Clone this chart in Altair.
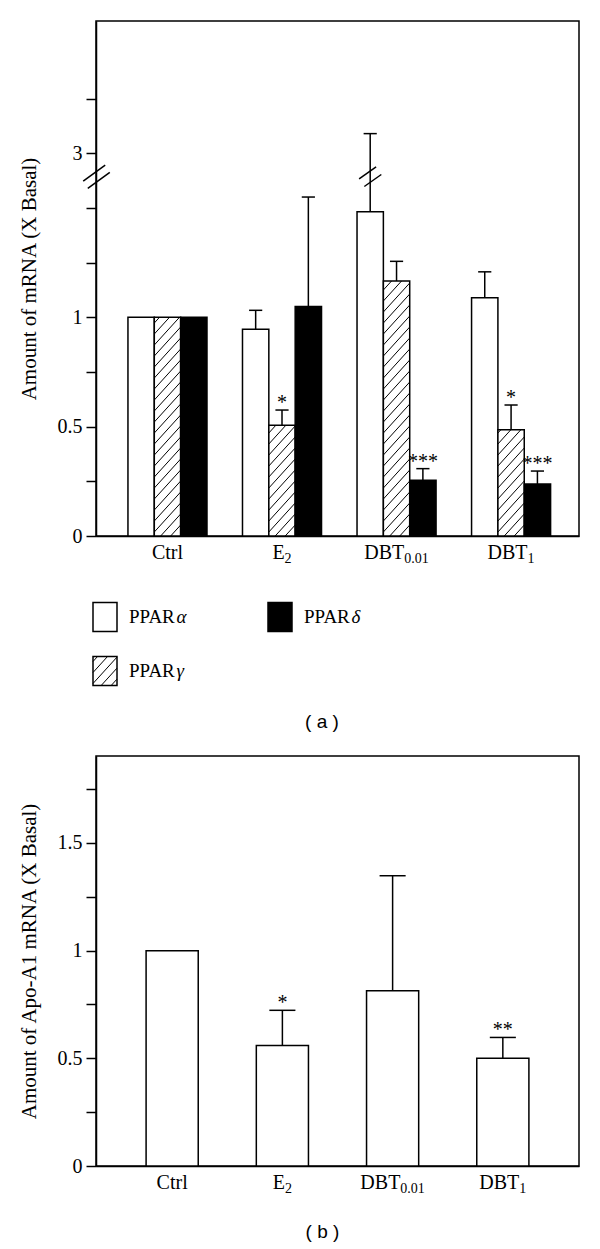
import json
import math
import altair as alt
import pandas as pd

# ---------------- data ----------------
groups = ["Ctrl", "E2", "DBT0.01", "DBT1"]
label_base = ["Ctrl", "E", "DBT", "DBT"]
label_sub = ["", "2", "0.01", "1"]
series = ["PPARα", "PPARγ", "PPARδ"]

alpha_mean = [1.00, 0.945, 1.483, 1.090]
alpha_sem = [0.0, 0.087, 1.607, 0.118]
alpha_sig = ["", "", "", ""]

gamma_mean = [1.00, 0.506, 1.166, 0.486]
gamma_sem = [0.0, 0.070, 0.090, 0.113]
gamma_sig = ["", "*", "", "*"]

delta_mean = [1.00, 1.050, 0.255, 0.238]
delta_sem = [0.0, 0.500, 0.053, 0.059]
delta_sig = ["", "", "***", "***"]

apo_mean = [1.00, 0.560, 0.814, 0.500]
apo_sem = [0.0, 0.163, 0.534, 0.097]
apo_sig = ["", "*", "", "**"]

# y tick values (real units) and which get a label
a_ticks = [0, 0.25, 0.5, 0.75, 1.0, 1.25, 1.5, 3.0, 3.25]
a_tick_labels = {0: "0", 0.5: "0.5", 1.0: "1", 3.0: "3"}
b_ticks = [0, 0.25, 0.5, 0.75, 1.0, 1.25, 1.5, 1.75]
b_tick_labels = {0: "0", 0.5: "0.5", 1.0: "1", 1.5: "1.5"}

legend_col = [0, 0, 1]   # PPARα, PPARγ, PPARδ
legend_row = [0, 1, 0]

# ---------------- layout / style ----------------
FONT = "Liberation Serif"
FS = 20          # axis labels
FS_T = 21        # axis titles
FS_SUB = 14      # subscripts
FS_LEG = 19
FS_STAR = 20
W = 483
HA = 515
HB = 410
XA = [-0.624, 3.593]
YA = [0, 2.355]            # display units (broken axis)
BREAK_LO, BREAK_SHIFT = 2.0, 1.25
BREAK_Y = 1.643
BW_A = 0.23
XB = [-0.691, 3.691]
YB = [0, 1.904]
BW_B = 0.473
SXA = W / (XA[1] - XA[0])
SYA = HA / (YA[1] - YA[0])
SXB = W / (XB[1] - XB[0])
SYB = HB / (YB[1] - YB[0])
FILLS = ["white", "white", "black"]
HATCHED = "PPARγ"
X_EXTENT = 26

LEG_TOP = 568
HL = 186
LEG_X = [-3, 172]
LEG_ROW_Y = [617 - LEG_TOP, 671 - LEG_TOP]
BOX_W, BOX_H = 24, 29
CAP_A_X, CAP_A_Y = 322 - 96, 722 - LEG_TOP

# approximate advance widths (em) of the serif font, for label layout
EM = {'C': .667, 't': .278, 'r': .333, 'l': .278, 'E': .611, 'D': .722,
      'B': .667, 'T': .611, '0': .5, '1': .5, '2': .5, '.': .25,
      'P': .556, 'A': .722, 'R': .667}


def tw(s, size):
    return sum(EM.get(ch, .5) for ch in s) * size


def disp(v):
    return v - BREAK_SHIFT if v > BREAK_LO else v


def hatch(w, h, spacing=11.0, slope=1.1, phase=4.0):
    segs = []
    kmin = -math.ceil(slope * w / spacing) - 1
    kmax = math.ceil(h / spacing) + 1
    for k in range(kmin, kmax + 1):
        c = k * spacing + phase
        p0 = max(0.0, -c / slope)
        p1 = min(w, (h - c) / slope)
        if p1 - p0 > 0.3:
            segs.append((p0, c + slope * p0, p1, c + slope * p1))
    return segs


def slash_pair(cx, cy, hx, hy, ox, oy, sx, sy):
    out = []
    for sgn in (-1, 1):
        mx = cx + sgn * ox / sx
        my = cy - sgn * oy / sy
        out.append(dict(x0=mx - hx / sx, x1=mx + hx / sx,
                        y0=my - hy / sy, y1=my + hy / sy))
    return out


def label_expr(mapping, conv=lambda v: v):
    parts = []
    for k, lab in mapping.items():
        parts.append(f"datum.value == {conv(k)} ? '{lab}'")
    return " : ".join(parts) + " : ''"


def xlabel_table(sx):
    rows = []
    for gi, (b, s) in enumerate(zip(label_base, label_sub)):
        wb, ws = tw(b, FS), tw(s, FS_SUB)
        split = (wb - ws) / 2.0
        rows.append(dict(gi=gi, xs=gi + split / sx, base=b, sub=s, y=0))
    return pd.DataFrame(rows)


def xlabel_layers(df, X, Y):
    base = alt.Chart(df).mark_text(font=FONT, fontSize=FS, align="right",
                                   baseline="alphabetic", dy=23,
                                   color="black").encode(
        x=X("xs"), y=Y("y"), text="base:N")
    sub = alt.Chart(df).transform_filter("datum.sub != ''").mark_text(
        font=FONT, fontSize=FS_SUB, align="left", baseline="alphabetic",
        dy=27, color="black").encode(x=X("xs"), y=Y("y"), text="sub:N")
    return [base, sub]


def x_axis():
    return alt.Axis(values=[0, 1, 2, 3], labels=False, ticks=False,
                    domainColor="black", domainWidth=1.5, minExtent=X_EXTENT,
                    grid=False, title=None)


def y_axis(values, expr, title):
    return alt.Axis(values=values, labelExpr=expr,
                    tickSize=10, tickWidth=1.5, tickColor="black",
                    domainColor="black", domainWidth=1.5, labelFont=FONT,
                    labelFontSize=FS, labelColor="black", labelPadding=4,
                    grid=False, title=title, titleFont=FONT,
                    titleFontSize=FS_T, titleFontWeight="normal",
                    titleColor="black", titlePadding=18)


# ---------------- panel (a) table ----------------
rows = []
means = [alpha_mean, gamma_mean, delta_mean]
sems = [alpha_sem, gamma_sem, delta_sem]
sigs = [alpha_sig, gamma_sig, delta_sig]
for si, s in enumerate(series):
    for gi, g in enumerate(groups):
        rows.append(dict(gi=gi, si=si, series=s, mean=means[si][gi],
                         sem=sems[si][gi], sig=sigs[si][gi]))
dfA = pd.DataFrame(rows)

hatchA = []
for gi, m in enumerate(gamma_mean):
    si = series.index(HATCHED)
    xl = gi + (si - 1) * BW_A - BW_A / 2
    for p0, u0, p1, u1 in hatch(BW_A * SXA, disp(m) * SYA):
        hatchA.append(dict(x0=xl + p0 / SXA, x1=xl + p1 / SXA,
                           y0=u0 / SYA, y1=u1 / SYA))
dfHA = pd.DataFrame(hatchA)

breaks = slash_pair(XA[0] + 0.5 / SXA, BREAK_Y, 11, 8, 2.3, 3.6, SXA, SYA)
for r in rows:
    if r["mean"] + r["sem"] > BREAK_LO:
        xc = r["gi"] + (r["si"] - 1) * BW_A
        breaks += slash_pair(xc, BREAK_Y, 8.5, 6, 2.6, 3.8, SXA, SYA)
dfBR = pd.DataFrame(breaks)

xscaleA = alt.Scale(domain=XA, nice=False, zero=False)
yscaleA = alt.Scale(domain=YA, nice=False, zero=False)
axisXA = x_axis()
axisYA = y_axis([disp(v) for v in a_ticks], label_expr(a_tick_labels, disp),
                "Amount of mRNA (X Basal)")


def XAe(f):
    return alt.X(f"{f}:Q", scale=xscaleA, axis=axisXA)


def YAe(f):
    return alt.Y(f"{f}:Q", scale=yscaleA, axis=axisYA)


baseA = alt.Chart(dfA).transform_calculate(
    xc=f"datum.gi + (datum.si - 1) * {BW_A}",
    x0=f"datum.xc - {BW_A / 2}",
    x1=f"datum.xc + {BW_A / 2}",
    c0=f"datum.xc - {BW_A / 4}",
    c1=f"datum.xc + {BW_A / 4}",
    top="datum.mean + datum.sem",
    ytop=f"datum.top > {BREAK_LO} ? datum.top - {BREAK_SHIFT} : datum.top",
    ymean=f"datum.mean > {BREAK_LO} ? datum.mean - {BREAK_SHIFT} : datum.mean",
    zero="0",
)

barsA = baseA.mark_bar(stroke="black", strokeWidth=1.5).encode(
    x=XAe("x0"), x2="x1:Q", y=YAe("ymean"), y2="zero:Q",
    fill=alt.Fill("series:N", scale=alt.Scale(domain=series, range=FILLS),
                  legend=None),
)
hatchLayerA = alt.Chart(dfHA).mark_rule(color="black", strokeWidth=1).encode(
    x=XAe("x0"), x2="x1:Q", y=YAe("y0"), y2="y1:Q")
errA = baseA.transform_filter("datum.sem > 0").mark_rule(
    color="black", strokeWidth=1.5).encode(x=XAe("xc"), y=YAe("ymean"), y2="ytop:Q")
capA = baseA.transform_filter("datum.sem > 0").mark_rule(
    color="black", strokeWidth=1.5).encode(x=XAe("c0"), x2="c1:Q", y=YAe("ytop"))
starA = baseA.transform_filter("datum.sig != ''").mark_text(
    font=FONT, fontSize=FS_STAR, baseline="alphabetic", dy=-1, color="black").encode(
    x=XAe("xc"), y=YAe("ytop"), text="sig:N")
breakA = alt.Chart(dfBR).mark_rule(color="black", strokeWidth=1.5).encode(
    x=XAe("x0"), x2="x1:Q", y=YAe("y0"), y2="y1:Q")

chartA = alt.layer(barsA, hatchLayerA, errA, capA, starA, breakA,
                   *xlabel_layers(xlabel_table(SXA), XAe, YAe)).properties(
    width=W, height=HA)

# ---------------- legend ----------------
legrows = []
for i, s in enumerate(series):
    x0 = LEG_X[legend_col[i]]
    yc = LEG_ROW_Y[legend_row[i]]
    legrows.append(dict(series=s, name=s[:-1], greek=s[-1], x0=x0,
                        x1=x0 + BOX_W, y0=yc - BOX_H / 2, y1=yc + BOX_H / 2,
                        tx=x0 + 36, gx=x0 + 36 + tw(s[:-1], FS_LEG), ty=yc))
dfL = pd.DataFrame(legrows)
hl = []
for r in legrows:
    if r["series"] == HATCHED:
        for p0, u0, p1, u1 in hatch(BOX_W, BOX_H, phase=2.0):
            hl.append(dict(x0=r["x0"] + p0, x1=r["x0"] + p1,
                           y0=r["y1"] - u0, y1=r["y1"] - u1))
dfHL = pd.DataFrame(hl)
dfCap = pd.DataFrame([dict(x=CAP_A_X, y=CAP_A_Y, t="( a )")])

lx = alt.Scale(domain=[0, W], nice=False, zero=False)
ly = alt.Scale(domain=[0, HL], nice=False, zero=False, reverse=True)


def LX(f):
    return alt.X(f"{f}:Q", scale=lx, axis=None)


def LY(f):
    return alt.Y(f"{f}:Q", scale=ly, axis=None)


legBoxes = alt.Chart(dfL).mark_rect(stroke="black", strokeWidth=1.5).encode(
    x=LX("x0"), x2="x1:Q", y=LY("y0"), y2="y1:Q",
    fill=alt.Fill("series:N", scale=alt.Scale(domain=series, range=FILLS),
                  legend=None))
legHatch = alt.Chart(dfHL).mark_rule(color="black", strokeWidth=1).encode(
    x=LX("x0"), x2="x1:Q", y=LY("y0"), y2="y1:Q")
legText = alt.Chart(dfL).mark_text(font=FONT, fontSize=FS_LEG, align="left",
                                   baseline="middle", color="black").encode(
    x=LX("tx"), y=LY("ty"), text="name:N")
legGreek = alt.Chart(dfL).mark_text(font=FONT, fontSize=FS_LEG, align="left",
                                    baseline="middle", fontStyle="italic",
                                    color="black").encode(
    x=LX("gx"), y=LY("ty"), text="greek:N")
capText = alt.Chart(dfCap).mark_text(font="Liberation Sans", fontSize=19,
                                     align="center", baseline="middle",
                                     color="black").encode(
    x=LX("x"), y=LY("y"), text="t:N")
legend = alt.layer(legBoxes, legHatch, legText, legGreek, capText).properties(
    width=W, height=HL, view=alt.ViewBackground(stroke="transparent"))

# ---------------- panel (b) ----------------
dfB = pd.DataFrame(dict(gi=list(range(len(groups))), mean=apo_mean,
                        sem=apo_sem, sig=apo_sig))
xscaleB = alt.Scale(domain=XB, nice=False, zero=False)
yscaleB = alt.Scale(domain=YB, nice=False, zero=False)
axisXB = x_axis()
axisYB = y_axis(b_ticks, label_expr(b_tick_labels),
                "Amount of Apo-A1 mRNA (X Basal)")


def XBe(f):
    return alt.X(f"{f}:Q", scale=xscaleB, axis=axisXB)


def YBe(f):
    return alt.Y(f"{f}:Q", scale=yscaleB, axis=axisYB)


baseB = alt.Chart(dfB).transform_calculate(
    x0=f"datum.gi - {BW_B / 2}",
    x1=f"datum.gi + {BW_B / 2}",
    c0=f"datum.gi - {BW_B / 4}",
    c1=f"datum.gi + {BW_B / 4}",
    top="datum.mean + datum.sem",
    zero="0",
)
barsB = baseB.mark_bar(stroke="black", strokeWidth=1.5, fill="white").encode(
    x=XBe("x0"), x2="x1:Q", y=YBe("mean"), y2="zero:Q")
errB = baseB.transform_filter("datum.sem > 0").mark_rule(
    color="black", strokeWidth=1.5).encode(x=XBe("gi"), y=YBe("mean"), y2="top:Q")
capB = baseB.transform_filter("datum.sem > 0").mark_rule(
    color="black", strokeWidth=1.5).encode(x=XBe("c0"), x2="c1:Q", y=YBe("top"))
starB = baseB.transform_filter("datum.sig != ''").mark_text(
    font=FONT, fontSize=FS_STAR, baseline="alphabetic", dy=-1, color="black").encode(
    x=XBe("gi"), y=YBe("top"), text="sig:N")

chartB = alt.layer(barsB, errB, capB, starB,
                   *xlabel_layers(xlabel_table(SXB), XBe, YBe)).properties(
    width=W, height=HB,
    title=alt.TitleParams("( b )", orient="bottom", font="Liberation Sans",
                          fontSize=19, fontWeight="normal", color="black",
                          offset=27, frame="group", anchor="middle", dx=-15))

chart = alt.vconcat(chartA, legend, chartB, spacing=0).properties(
    padding={"left": 9, "top": 12, "right": 5, "bottom": 0},
    background="white",
).configure_view(stroke="black", strokeWidth=1.5)

chart.save("out.html", embed_options={"renderer": "svg", "actions": False})
